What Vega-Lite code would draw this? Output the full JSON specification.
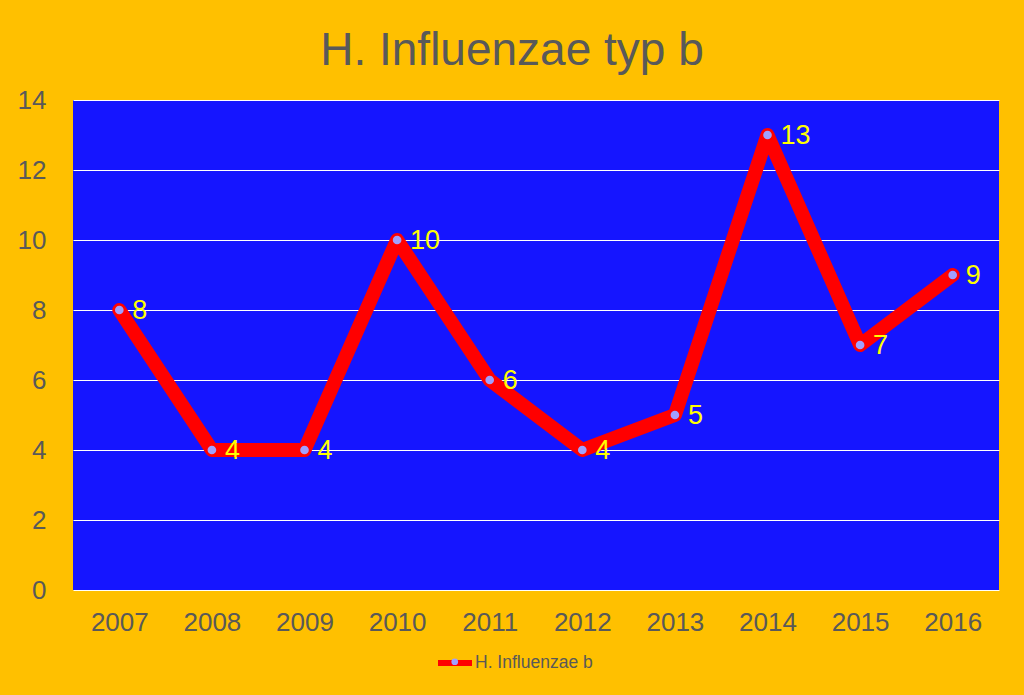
{
  "$schema": "https://vega.github.io/schema/vega-lite/v6.json",
  "autosize": {"type": "none"},
  "width": 926,
  "height": 490,
  "padding": {"left": 73, "top": 100, "right": 25, "bottom": 105},
  "background": "#FFC000",
  "title": {"text": "H. Influenzae typ b", "fontSize": 46, "font": "Liberation Sans", "fontWeight": "normal", "color": "#595959", "offset": 12, "anchor": "middle", "dx": -24},
  "config": {
    "view": {"fill": "#1515FF", "stroke": null},
    "axis": {"labelFont": "Liberation Sans", "labelColor": "#595959", "labelFontSize": 26, "domain": false, "ticks": false, "title": null},
    "legend": {"padding": 0}
  },
  "data": {"values": [
    {"year": "2007", "value": 8, "series": "H. Influenzae b"},
    {"year": "2008", "value": 4, "series": "H. Influenzae b"},
    {"year": "2009", "value": 4, "series": "H. Influenzae b"},
    {"year": "2010", "value": 10, "series": "H. Influenzae b"},
    {"year": "2011", "value": 6, "series": "H. Influenzae b"},
    {"year": "2012", "value": 4, "series": "H. Influenzae b"},
    {"year": "2013", "value": 5, "series": "H. Influenzae b"},
    {"year": "2014", "value": 13, "series": "H. Influenzae b"},
    {"year": "2015", "value": 7, "series": "H. Influenzae b"},
    {"year": "2016", "value": 9, "series": "H. Influenzae b"}
  ]},
  "encoding": {
    "x": {"field": "year", "type": "ordinal", "scale": {"type": "point", "padding": 0.5},
      "axis": {"labelAngle": 0, "grid": false, "labelPadding": 19}},
    "y": {"field": "value", "type": "quantitative", "scale": {"domain": [0, 14]},
      "axis": {"values": [0, 2, 4, 6, 8, 10, 12, 14], "grid": true, "gridColor": "#FFFFFF", "gridWidth": 1.2, "gridOpacity": 1, "labelPadding": 27}}
  },
  "layer": [
    {"mark": {"type": "line", "strokeWidth": 14, "strokeJoin": "round", "strokeCap": "round"},
      "encoding": {"color": {"field": "series", "type": "nominal", "scale": {"range": ["#FF0000"]},
        "legend": {"orient": "none", "legendX": 362, "legendY": 543, "title": null, "symbolType": "stroke", "symbolStrokeWidth": 6, "symbolSize": 1156, "labelFont": "Liberation Sans", "labelFontSize": 17.5, "labelColor": "#595959", "labelOffset": 0}}}},
    {"mark": {"type": "point", "filled": true, "size": 75, "opacity": 1},
      "encoding": {"fill": {"field": "series", "type": "nominal", "scale": {"range": ["#A0A0FF"]},
        "legend": {"orient": "none", "legendX": 373, "legendY": 553, "title": null, "symbolType": "circle", "symbolSize": 45, "symbolStrokeWidth": 0, "symbolOpacity": 1, "labelFont": "Liberation Sans", "labelFontSize": 17.5, "labelExpr": "''", "labelOffset": 0}}}},
    {"mark": {"type": "text", "align": "left", "baseline": "middle", "dx": 13, "dy": 1, "fontSize": 27, "font": "Liberation Sans", "color": "#FFFF00"},
      "encoding": {"text": {"field": "value", "type": "quantitative"}}}
  ]
}
